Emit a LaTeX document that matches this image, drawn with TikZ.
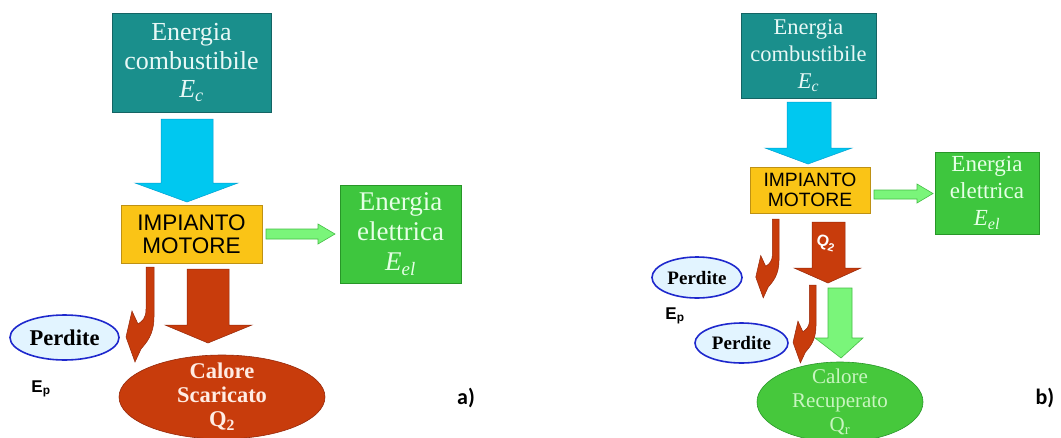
\documentclass[tikz,border=0pt]{standalone}
\usepackage{fontspec}
\setmainfont{Liberation Serif}
\setsansfont{Liberation Sans}
\newfontfamily\carlitofont{Carlito}
\usetikzlibrary{shapes.geometric}
\definecolor{tealfill}{RGB}{26,143,140}
\definecolor{tealdraw}{RGB}{20,100,100}
\definecolor{tealtext}{RGB}{232,248,246}
\definecolor{yellowfill}{RGB}{250,196,22}
\definecolor{yellowdraw}{RGB}{190,145,20}
\definecolor{greenfill}{RGB}{62,198,62}
\definecolor{greendraw}{RGB}{40,150,40}
\definecolor{greentext}{RGB}{230,255,230}
\definecolor{recfill}{RGB}{70,200,60}
\definecolor{rectext}{RGB}{200,245,192}
\definecolor{lightgreen}{RGB}{122,245,122}
\definecolor{lightgreendraw}{RGB}{70,190,70}
\definecolor{bluefill}{RGB}{0,200,240}
\definecolor{bluedraw}{RGB}{0,160,210}
\definecolor{redfill}{RGB}{200,60,12}
\definecolor{reddraw}{RGB}{150,40,10}
\definecolor{redtext}{RGB}{255,236,228}
\definecolor{lossfill}{RGB}{226,244,255}
\definecolor{lossdraw}{RGB}{30,40,205}
\tikzset{
  fuelbox/.style={rectangle, fill=tealfill, draw=tealdraw, line width=0.8pt, inner sep=0pt, text=tealtext, align=center},
  enginebox/.style={rectangle, fill=yellowfill, draw=yellowdraw, line width=0.8pt, inner sep=0pt, align=center},
  elecbox/.style={rectangle, fill=greenfill, draw=greendraw, line width=0.8pt, inner sep=0pt, text=greentext, align=center},
  lossell/.style={ellipse, fill=lossfill, draw=lossdraw, line width=1.6pt, inner sep=0pt},
  heatell/.style={ellipse, fill=redfill, draw=reddraw, line width=0.6pt, inner sep=0pt},
  recell/.style={ellipse, fill=recfill, draw=greendraw, line width=0.6pt, inner sep=0pt},
  heattext/.style={align=center, text=redtext, font=\bfseries\fontsize{22.5}{24}\selectfont},
  rectext/.style={align=center, text=rectext, font=\fontsize{21}{24}\selectfont},
  eplabel/.style={font=\sffamily\bfseries\fontsize{17}{18}\selectfont},
  panellabel/.style={font=\carlitofont\bfseries\fontsize{22}{23}\selectfont},
  blockblue/.style={fill=bluefill, draw=bluedraw, line width=0.5pt},
  blockred/.style={fill=redfill, draw=reddraw, line width=0.5pt},
  blockgreen/.style={fill=lightgreen, draw=lightgreendraw, line width=0.6pt},
  hookarrow/.pic={
    \path[blockred, scale=#1] (0,0) -- (0,50) .. controls (0,68) and (-8,76) .. (-13,82)
      -- (-19,95) -- (-28,70) -- (-22,44) -- (-16,57)
      .. controls (-12,54) and (-8,52) .. (-8,42) -- (-8,0) -- cycle;
  }
}
\begin{document}
\begin{tikzpicture}[x=1pt,y=-1pt]
\useasboundingbox (0,0) rectangle (1061,437);
\fill[white] (0,0) rectangle (1061,437);

% ---------------- panel a ----------------
\node[fuelbox, minimum width=159, minimum height=99, font=\fontsize{26}{28.5}\selectfont] (fuelA) at (191.5,62.5)
  {Energia\\combustibile\\\textit{E}\textsubscript{\textit{c}}};
\node[enginebox, minimum width=141, minimum height=58, font=\sffamily\fontsize{22.5}{23}\selectfont] (engineA) at (191.5,234)
  {IMPIANTO\\MOTORE};
\node[elecbox, minimum width=121, minimum height=98, font=\fontsize{27}{30}\selectfont] (elecA) at (400.5,234)
  {Energia\\elettrica\\\textit{E}\textsubscript{\textit{el}}};
\node[lossell, minimum width=109, minimum height=45, font=\bfseries\fontsize{22.5}{25}\selectfont] (lossA) at (64.5,337.5) {Perdite};
\node[heatell, minimum width=206, minimum height=84] (heatA) at (222,397) {};
\node[heattext] (heatAtext) at (222,397) {Calore\\Scaricato\\Q\textsubscript{2}};
\node[eplabel] (epA) at (41,389) {E\textsubscript{p}};
\node[panellabel] (labA) at (466,398) {a)};

\path[blockblue] (161,119) -- (213,119) -- (213,183) -- (238,183) -- (187,202) -- (135,183) -- (161,183) -- cycle;
\path[blockgreen] (266,229) -- (318,229) -- (318,224) -- (335,234) -- (318,244) -- (318,239) -- (266,239) -- cycle;
\path[blockred] (187,269) -- (229,269) -- (229,325) -- (252,325) -- (208,343) -- (165,325) -- (187,325) -- cycle;
\pic at (154,267) {hookarrow=1};

% ---------------- panel b ----------------
\node[fuelbox, minimum width=135, minimum height=85, font=\fontsize{22.5}{27}\selectfont] (fuelB) at (808.5,55.5)
  {Energia\\combustibile\\\textit{E}\textsubscript{\textit{c}}};
\node[enginebox, minimum width=120, minimum height=46, font=\sffamily\fontsize{19.3}{19.5}\selectfont] (engineB) at (810,190)
  {IMPIANTO\\MOTORE};
\node[elecbox, minimum width=104, minimum height=82, font=\fontsize{23}{27}\selectfont] (elecB) at (987,193)
  {Energia\\elettrica\\\textit{E}\textsubscript{\textit{el}}};
\node[lossell, minimum width=90, minimum height=41, font=\bfseries\fontsize{19}{21}\selectfont] (lossB1) at (697,277.5) {Perdite};
\node[lossell, minimum width=93, minimum height=40, font=\bfseries\fontsize{19}{21}\selectfont] (lossB2) at (741.5,343) {Perdite};
\node[recell, minimum width=166, minimum height=80] (recB) at (840,402) {};
\node[rectext] (recBtext) at (840,402) {Calore\\Recuperato\\Q\textsubscript{r}};
\node[eplabel] (epB) at (675,316) {E\textsubscript{p}};
\node[panellabel] (labB) at (1045,398) {b)};

\path[blockblue] (787,102) -- (831,102) -- (831,148) -- (852,148) -- (808,164) -- (765,148) -- (787,148) -- cycle;
\path[blockgreen] (874,190) -- (917,190) -- (917,184) -- (933,193.5) -- (917,203) -- (917,199) -- (874,199) -- cycle;
\path[blockred] (812,222) -- (845,222) -- (845,268) -- (861,268) -- (828,283) -- (794,268) -- (812,268) -- cycle;
\node[text=white, font=\sffamily\bfseries\fontsize{16}{17}\selectfont, rotate=-15, inner sep=0pt] (q2) at (826,243) {Q\textsubscript{2}};
\path[blockgreen] (828,288) -- (852,288) -- (852,338) -- (863,338) -- (841,358) -- (815,338) -- (828,338) -- cycle;
\pic at (779,219) {hookarrow=0.83};
\pic at (816,285) {hookarrow=0.82};
\end{tikzpicture}
\end{document}
